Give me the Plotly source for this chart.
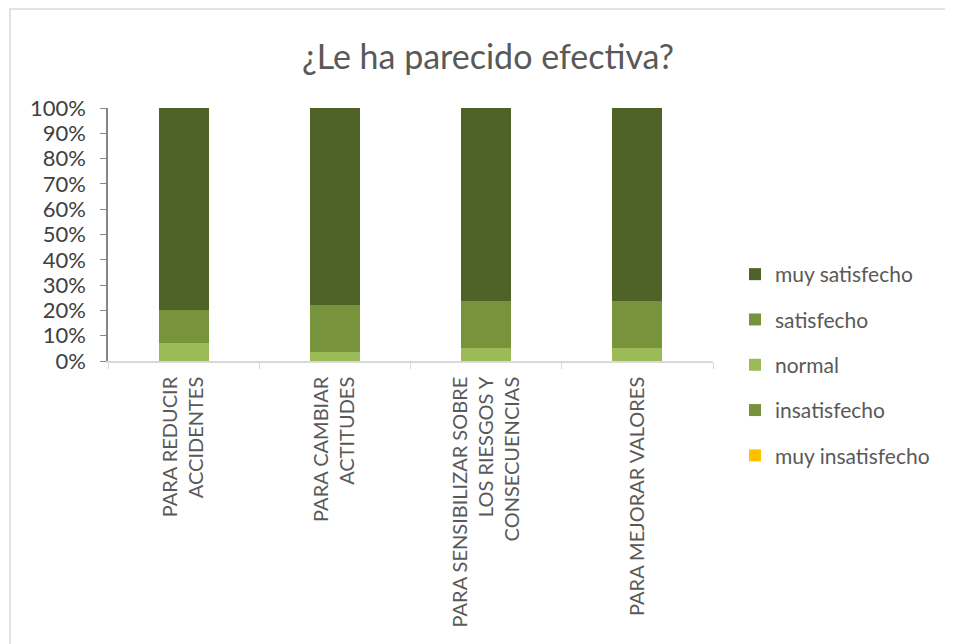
import plotly.graph_objects as go

categories = [
    "PARA REDUCIR<br>ACCIDENTES",
    "PARA CAMBIAR<br>ACTITUDES",
    "PARA SENSIBILIZAR SOBRE<br>LOS RIESGOS Y<br>CONSECUENCIAS",
    "PARA MEJORAR VALORES",
]
# shares (fractions of 1), bottom to top of each stack
muy_insatisfecho = [0.0, 0.0, 0.0, 0.0]
insatisfecho = [0.0, 0.0, 0.0, 0.0]
normal = [0.071, 0.037, 0.050, 0.050]
satisfecho = [0.131, 0.184, 0.188, 0.186]
muy_satisfecho = [0.798, 0.779, 0.762, 0.764]

series = [
    ("muy insatisfecho", muy_insatisfecho, "#ffc000", 5),
    ("insatisfecho", insatisfecho, "#76923c", 4),
    ("normal", normal, "#9bbb59", 3),
    ("satisfecho", satisfecho, "#77933c", 2),
    ("muy satisfecho", muy_satisfecho, "#4f6228", 1),
]

FONT = "Lato, 'Open Sans', sans-serif"
GREY = "#595959"

fig = go.Figure()
for name, vals, color, rank in series:
    fig.add_trace(go.Bar(
        x=categories, y=vals, name=name, legendgroup=name, legendrank=rank,
        marker=dict(color=color, line=dict(width=0)),
        width=0.33,
    ))

# page is offset by 8px body margin
OFF = 8
W, H = 953 - OFF, 644 - OFF
L, T = 108 - OFF, 108 - OFF
PR, PB = 713 - OFF, 361 - OFF
R, B = W - PR, H - PB
pw, ph = PR - L, PB - T

def px_x(x):
    return (x - OFF - L) / pw

def px_y(y):
    return (PB - (y - OFF)) / ph

fig.update_layout(
    width=W, height=H,
    barmode="stack",
    paper_bgcolor="white", plot_bgcolor="white",
    margin=dict(l=L, r=R, t=T, b=B, pad=0),
    font=dict(family=FONT, color=GREY),
    title=dict(text="¿Le ha parecido efectiva?", x=(488 - OFF) / W, xanchor="center",
               y=1 - (57 - OFF) / H, yanchor="middle",
               font=dict(size=34, color=GREY, family=FONT)),
    legend=dict(
        traceorder="grouped", tracegroupgap=15,
        x=px_x(735), xanchor="left", y=px_y(365), yanchor="middle",
        font=dict(size=21, color=GREY, family=FONT),
        itemwidth=30,
        bgcolor="rgba(0,0,0,0)",
    ),
    showlegend=True,
    bargap=0,
)

fig.update_xaxes(
    showline=True, linecolor="#d9d9d9", linewidth=1.5,
    ticks="outside", tickson="boundaries", ticklen=6, tickcolor="#d9d9d9",
    tickangle=-90, tickfont=dict(size=20, color=GREY, family=FONT),
    ticklabelstandoff=6,
    showgrid=False, zeroline=False,
)
fig.update_yaxes(
    range=[0, 1], dtick=0.1, tickformat=".0%",
    showline=True, linecolor="#868686", linewidth=1.5,
    ticks="outside", ticklen=6, tickcolor="#868686",
    tickfont=dict(size=22, color="#404040", family=FONT),
    ticklabelstandoff=10,
    showgrid=False, zeroline=False,
)

# outer chart border (light grey frame)
fig.add_shape(type="rect", xref="paper", yref="paper",
              x0=px_x(10), x1=px_x(990),
              y0=px_y(690), y1=px_y(9),
              line=dict(color="#d9d9d9", width=1.5), fillcolor="rgba(0,0,0,0)",
              layer="below")

fig.write_html("out.html")
